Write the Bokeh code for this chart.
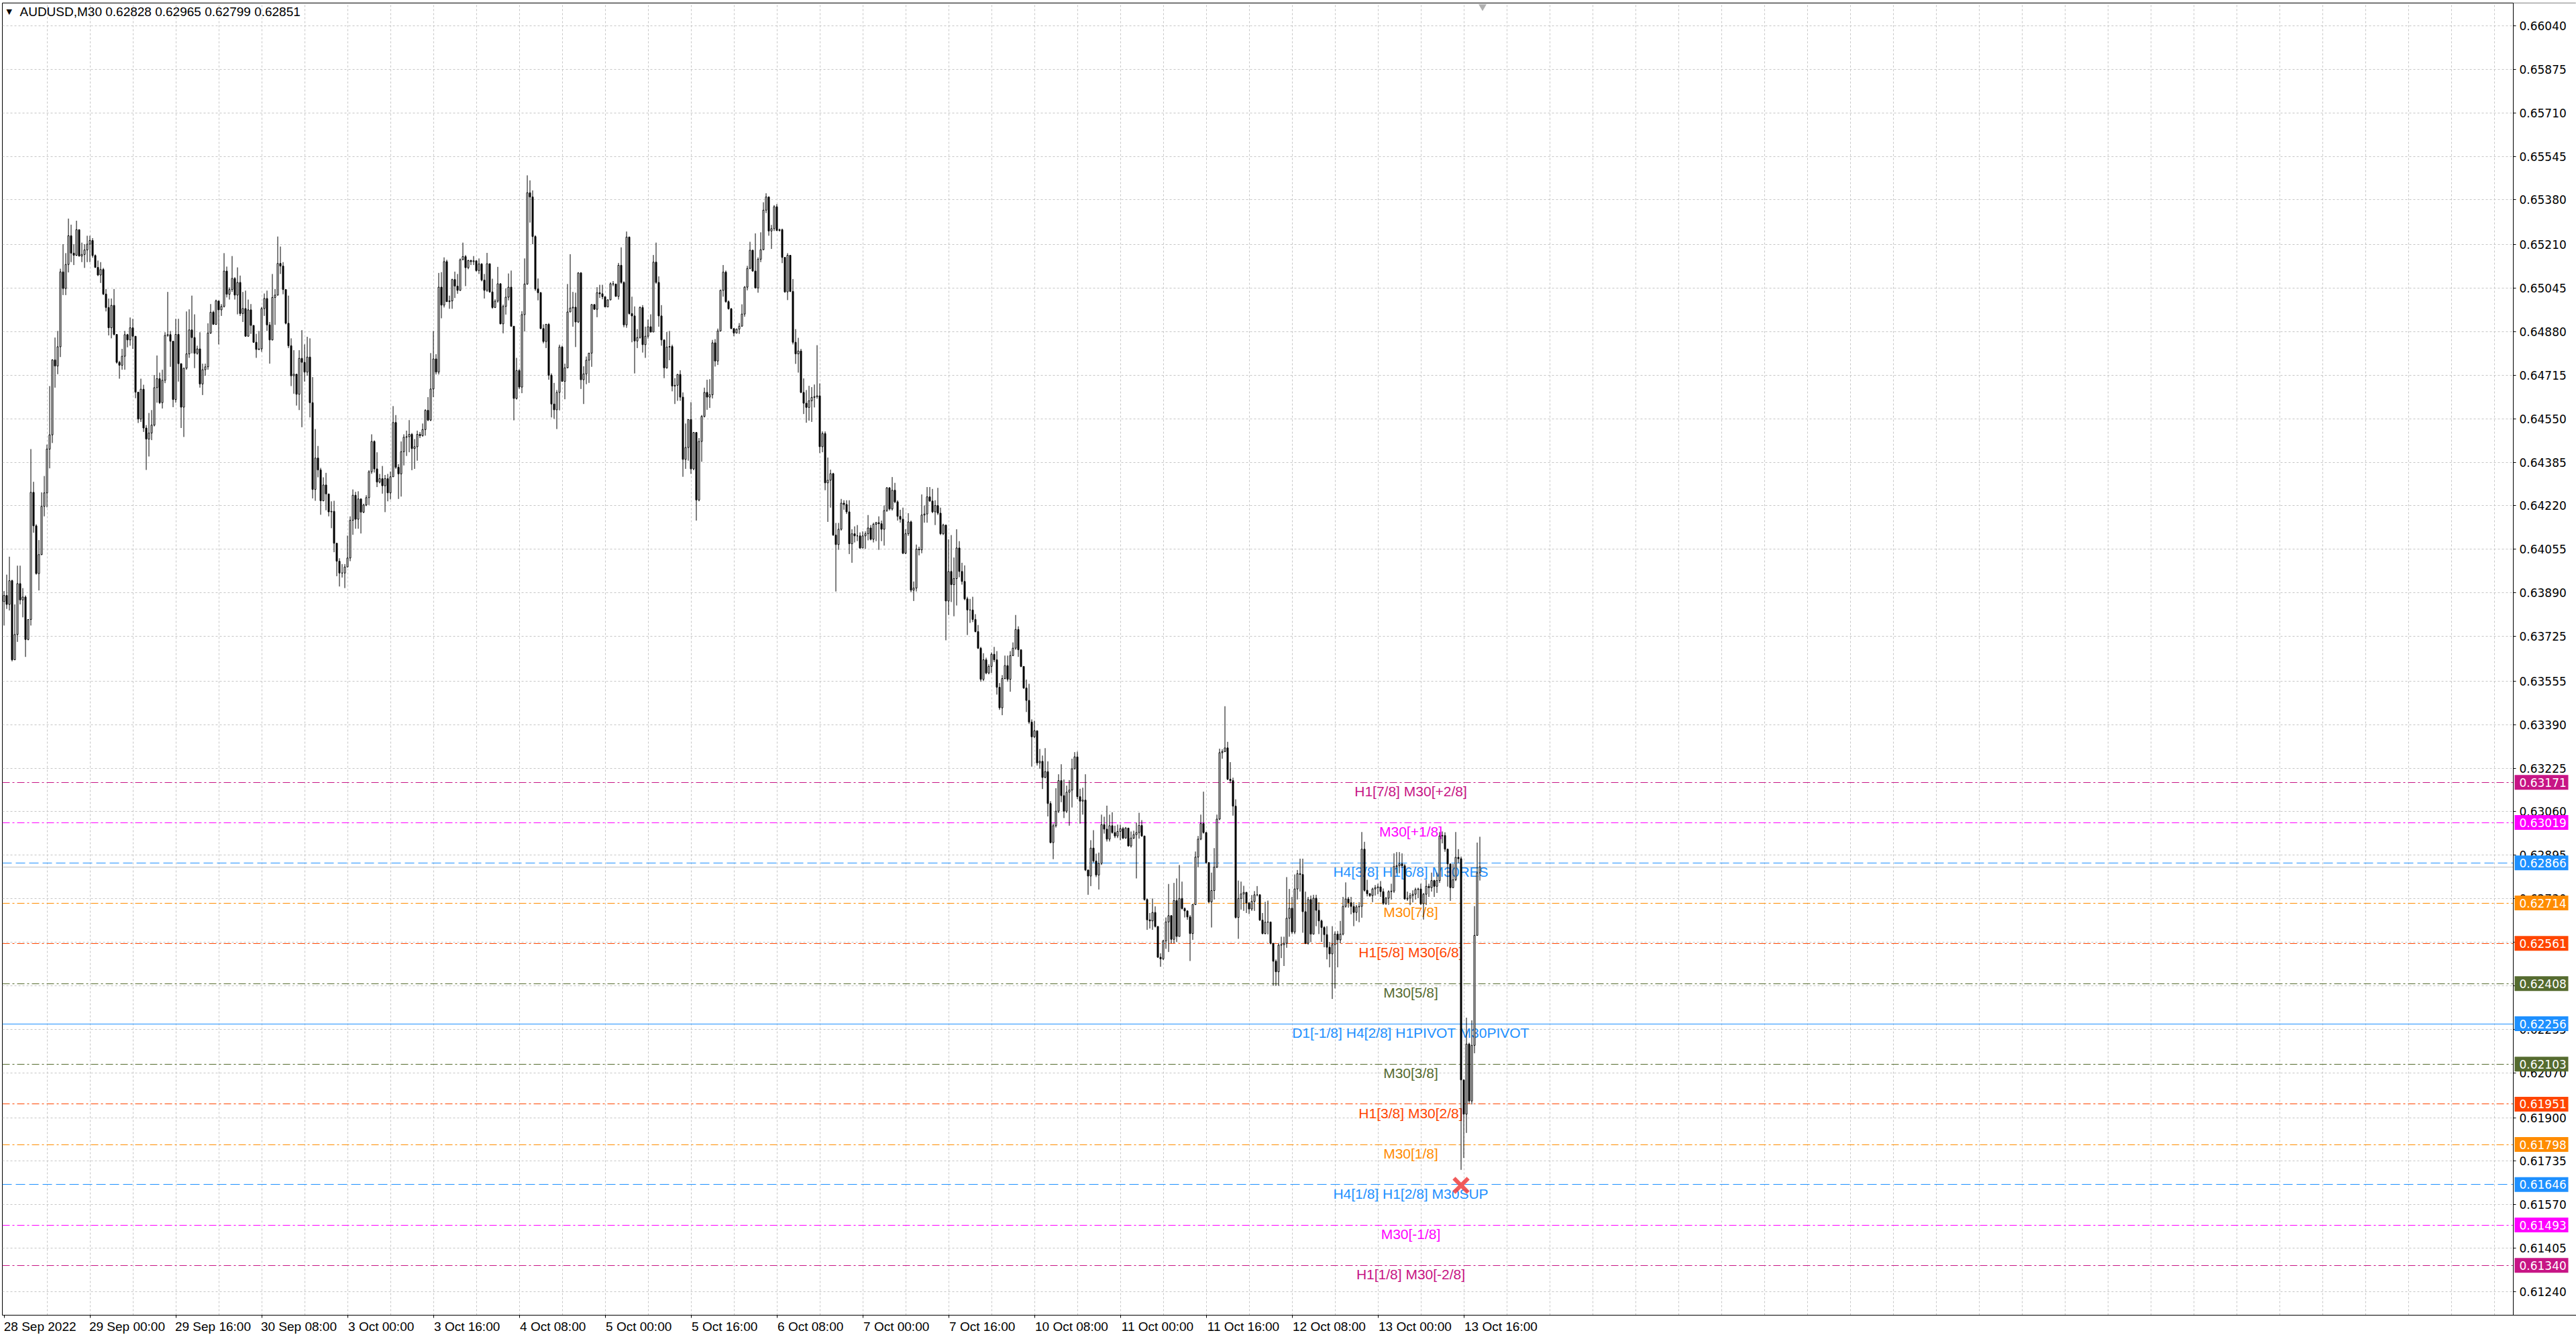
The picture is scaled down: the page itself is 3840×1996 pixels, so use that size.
import numpy as np
from bokeh.plotting import figure
from bokeh.models import (ColumnDataSource, FixedTicker, LinearAxis, Range1d,
                          Grid, NumeralTickFormatter)
from bokeh.core.properties import value
from bokeh.embed import file_html
from bokeh.resources import INLINE

# ---------------- data ----------------
title_text = "AUDUSD,M30  0.62828 0.62965 0.62799 0.62851"
first_open = 0.63857

close = [
0.63880, 0.63846, 0.63936, 0.63636, 0.63732, 0.63925, 0.63863, 0.63874, 0.63713, 0.63789,
0.64271, 0.64144, 0.63963, 0.64035, 0.64218, 0.64269, 0.64435, 0.64489, 0.64773, 0.64750,
0.64823, 0.65107, 0.65044, 0.65135, 0.65244, 0.65178, 0.65170, 0.65267, 0.65167, 0.65173,
0.65190, 0.65212, 0.65226, 0.65169, 0.65124, 0.65095, 0.65116, 0.65023, 0.64972, 0.64895,
0.64980, 0.64870, 0.64764, 0.64753, 0.64787, 0.64869, 0.64849, 0.64895, 0.64863, 0.64651,
0.64549, 0.64662, 0.64515, 0.64473, 0.64496, 0.64526, 0.64668, 0.64702, 0.64611, 0.64696,
0.64866, 0.64869, 0.64844, 0.64623, 0.64870, 0.64759, 0.64594, 0.64742, 0.64796, 0.64887,
0.64858, 0.64798, 0.64815, 0.64682, 0.64736, 0.64747, 0.64875, 0.64954, 0.64908, 0.64997,
0.64963, 0.64976, 0.65110, 0.65022, 0.65040, 0.65082, 0.65019, 0.65067, 0.64949, 0.64968,
0.64863, 0.64963, 0.64904, 0.64840, 0.64813, 0.64815, 0.64968, 0.65006, 0.64906, 0.64849,
0.65010, 0.65019, 0.65139, 0.65129, 0.65040, 0.64912, 0.64827, 0.64713, 0.64719, 0.64643,
0.64779, 0.64764, 0.64727, 0.64784, 0.64611, 0.64282, 0.64401, 0.64356, 0.64239, 0.64299,
0.64265, 0.64197, 0.64199, 0.64078, 0.64010, 0.63965, 0.63965, 0.63988, 0.64022, 0.64165,
0.64260, 0.64169, 0.64246, 0.64196, 0.64223, 0.64251, 0.64349, 0.64464, 0.64360, 0.64310,
0.64323, 0.64296, 0.64323, 0.64269, 0.64330, 0.64536, 0.64366, 0.64341, 0.64425, 0.64480,
0.64482, 0.64491, 0.64437, 0.64444, 0.64491, 0.64486, 0.64509, 0.64582, 0.64545, 0.64663,
0.64777, 0.64727, 0.65049, 0.64981, 0.65146, 0.64994, 0.64997, 0.65078, 0.65053, 0.65037,
0.65153, 0.65165, 0.65123, 0.65150, 0.65146, 0.65149, 0.65112, 0.65137, 0.65076, 0.65037,
0.65138, 0.65031, 0.64972, 0.64996, 0.65062, 0.64910, 0.64976, 0.65011, 0.65049, 0.64901,
0.64627, 0.64733, 0.64670, 0.64945, 0.65061, 0.65407, 0.65391, 0.65241, 0.65042, 0.65028,
0.64892, 0.64843, 0.64908, 0.64715, 0.64606, 0.64584, 0.64650, 0.64822, 0.64692, 0.64743,
0.64955, 0.64970, 0.64973, 0.64917, 0.65103, 0.64698, 0.64720, 0.64772, 0.64799, 0.64983,
0.64965, 0.65028, 0.65024, 0.65013, 0.64974, 0.65001, 0.65062, 0.65061, 0.65014, 0.65132,
0.65067, 0.64906, 0.65239, 0.64949, 0.64940, 0.64845, 0.64858, 0.64972, 0.64831, 0.64863,
0.64899, 0.64879, 0.65144, 0.65067, 0.64940, 0.64849, 0.64743, 0.64822, 0.64824, 0.64674,
0.64677, 0.64718, 0.64632, 0.64396, 0.64441, 0.64547, 0.64360, 0.64498, 0.64242, 0.64464,
0.64559, 0.64650, 0.64632, 0.64641, 0.64838, 0.64769, 0.64883, 0.65037, 0.65106, 0.64994,
0.64967, 0.64892, 0.64875, 0.64890, 0.64901, 0.64947, 0.65049, 0.65120, 0.65189, 0.65110,
0.65046, 0.65155, 0.65191, 0.65341, 0.65391, 0.65262, 0.65271, 0.65354, 0.65264, 0.65267,
0.65162, 0.65031, 0.65170, 0.65033, 0.64840, 0.64796, 0.64807, 0.64650, 0.64609, 0.64593,
0.64618, 0.64631, 0.64634, 0.64637, 0.64444, 0.64494, 0.64307, 0.64317, 0.64342, 0.64109,
0.64073, 0.64131, 0.64230, 0.64225, 0.64197, 0.64076, 0.64114, 0.64106, 0.64106, 0.64060,
0.64106, 0.64114, 0.64136, 0.64093, 0.64150, 0.64156, 0.64152, 0.64131, 0.64202, 0.64288,
0.64208, 0.64279, 0.64235, 0.64180, 0.64169, 0.64040, 0.64114, 0.64159, 0.63900, 0.63908,
0.64056, 0.64053, 0.64185, 0.64189, 0.64254, 0.64238, 0.64197, 0.64221, 0.64192, 0.64114,
0.64147, 0.63859, 0.63971, 0.63921, 0.63944, 0.64060, 0.63971, 0.63933, 0.63867, 0.63825,
0.63825, 0.63789, 0.63743, 0.63680, 0.63562, 0.63636, 0.63586, 0.63611, 0.63657, 0.63636,
0.63532, 0.63454, 0.63565, 0.63614, 0.63562, 0.63652, 0.63680, 0.63751, 0.63674, 0.63611,
0.63529, 0.63482, 0.63400, 0.63344, 0.63367, 0.63245, 0.63251, 0.63190, 0.63212, 0.63091,
0.62943, 0.63007, 0.63062, 0.63178, 0.63121, 0.63062, 0.63134, 0.63142, 0.63223, 0.63268,
0.63117, 0.63100, 0.63104, 0.62839, 0.62816, 0.62922, 0.62873, 0.62820, 0.62864, 0.63011,
0.62994, 0.62956, 0.63007, 0.62981, 0.62968, 0.62985, 0.62996, 0.62960, 0.62998, 0.62930,
0.62960, 0.62973, 0.62981, 0.63008, 0.62968, 0.62727, 0.62650, 0.62646, 0.62678, 0.62625,
0.62508, 0.62502, 0.62570, 0.62642, 0.62666, 0.62576, 0.62723, 0.62587, 0.62731, 0.62693,
0.62684, 0.62661, 0.62598, 0.62708, 0.62888, 0.62956, 0.63015, 0.62981, 0.62867, 0.62718,
0.62761, 0.62850, 0.63032, 0.63284, 0.63288, 0.63302, 0.63183, 0.63178, 0.63081, 0.62659,
0.62731, 0.62748, 0.62754, 0.62714, 0.62691, 0.62720, 0.62745, 0.62745, 0.62649, 0.62598,
0.62641, 0.62642, 0.62561, 0.62493, 0.62453, 0.62554, 0.62556, 0.62561, 0.62656, 0.62694,
0.62604, 0.62767, 0.62825, 0.62822, 0.62681, 0.62561, 0.62727, 0.62596, 0.62732, 0.62686,
0.62646, 0.62621, 0.62594, 0.62546, 0.62521, 0.62556, 0.62596, 0.62574, 0.62596, 0.62701,
0.62729, 0.62715, 0.62701, 0.62678, 0.62699, 0.62701, 0.62918, 0.62762, 0.62749, 0.62742,
0.62767, 0.62772, 0.62775, 0.62757, 0.62712, 0.62732, 0.62757, 0.62759, 0.62852, 0.62855,
0.62862, 0.62855, 0.62729, 0.62732, 0.62742, 0.62747, 0.62765, 0.62767, 0.62711, 0.62747,
0.62777, 0.62772, 0.62799, 0.62777, 0.62799, 0.62968, 0.62970, 0.62918, 0.62862, 0.62772,
0.62802, 0.62887, 0.62882, 0.62043, 0.61913, 0.62179, 0.61963, 0.62174, 0.62591, 0.62828, 0.62851,
]

high = [
0.63897, 0.63959, 0.64027, 0.63940, 0.63846, 0.63993, 0.63993, 0.63908, 0.63880, 0.63789,
0.64435, 0.64311, 0.64150, 0.64090, 0.64271, 0.64333, 0.64452, 0.64674, 0.64776, 0.64858,
0.64883, 0.65119, 0.65212, 0.65178, 0.65309, 0.65286, 0.65212, 0.65301, 0.65267, 0.65218,
0.65212, 0.65244, 0.65244, 0.65235, 0.65173, 0.65150, 0.65144, 0.65122, 0.65042, 0.65006,
0.65006, 0.65042, 0.64870, 0.64770, 0.64815, 0.64883, 0.64872, 0.64934, 0.64929, 0.64863,
0.64651, 0.64702, 0.64679, 0.64526, 0.64572, 0.64583, 0.64716, 0.64790, 0.64725, 0.64736,
0.64878, 0.65031, 0.64883, 0.64844, 0.64929, 0.64929, 0.64753, 0.64742, 0.64957, 0.64965,
0.65017, 0.64946, 0.64827, 0.64878, 0.64759, 0.64759, 0.64912, 0.64985, 0.64960, 0.65002,
0.64997, 0.64985, 0.65178, 0.65127, 0.65048, 0.65167, 0.65087, 0.65124, 0.65093, 0.65031,
0.65036, 0.65002, 0.64985, 0.64904, 0.64872, 0.64883, 0.64974, 0.65025, 0.65036, 0.64917,
0.65099, 0.65042, 0.65241, 0.65203, 0.65144, 0.65040, 0.65017, 0.64855, 0.64810, 0.64719,
0.64810, 0.64886, 0.64832, 0.64861, 0.64855, 0.64708, 0.64511, 0.64447, 0.64364, 0.64328,
0.64345, 0.64265, 0.64237, 0.64239, 0.64070, 0.64021, 0.63999, 0.63999, 0.64107, 0.64180,
0.64282, 0.64273, 0.64275, 0.64248, 0.64228, 0.64260, 0.64355, 0.64491, 0.64468, 0.64423,
0.64341, 0.64371, 0.64337, 0.64341, 0.64350, 0.64598, 0.64564, 0.64378, 0.64464, 0.64491,
0.64505, 0.64545, 0.64496, 0.64473, 0.64505, 0.64500, 0.64532, 0.64586, 0.64632, 0.64799,
0.64883, 0.64795, 0.65103, 0.65106, 0.65162, 0.65153, 0.65017, 0.65081, 0.65108, 0.65099,
0.65158, 0.65218, 0.65171, 0.65153, 0.65153, 0.65167, 0.65149, 0.65158, 0.65140, 0.65099,
0.65179, 0.65135, 0.65081, 0.65003, 0.65126, 0.65064, 0.64983, 0.65044, 0.65101, 0.65112,
0.64901, 0.64781, 0.64738, 0.64958, 0.65158, 0.65473, 0.65454, 0.65416, 0.65246, 0.65082,
0.65031, 0.64908, 0.64910, 0.64913, 0.64722, 0.64686, 0.64659, 0.64831, 0.64827, 0.64759,
0.65061, 0.65174, 0.65031, 0.65028, 0.65106, 0.65106, 0.64749, 0.64786, 0.64799, 0.64985,
0.64985, 0.65049, 0.65058, 0.65058, 0.65013, 0.65003, 0.65067, 0.65072, 0.65062, 0.65141,
0.65200, 0.65071, 0.65260, 0.65241, 0.65013, 0.64976, 0.64890, 0.64976, 0.64981, 0.64899,
0.64926, 0.64946, 0.65171, 0.65218, 0.65090, 0.64981, 0.64849, 0.64879, 0.64883, 0.64831,
0.64704, 0.64720, 0.64734, 0.64650, 0.64532, 0.64547, 0.64613, 0.64500, 0.64500, 0.64477,
0.64564, 0.64668, 0.64698, 0.64700, 0.64849, 0.64852, 0.64892, 0.65040, 0.65133, 0.65112,
0.64999, 0.64970, 0.64890, 0.64892, 0.64913, 0.64984, 0.65053, 0.65130, 0.65221, 0.65191,
0.65253, 0.65162, 0.65257, 0.65371, 0.65405, 0.65393, 0.65285, 0.65360, 0.65364, 0.65271,
0.65271, 0.65162, 0.65178, 0.65162, 0.65080, 0.64890, 0.64857, 0.64815, 0.64703, 0.64659,
0.64675, 0.64670, 0.64680, 0.64829, 0.64684, 0.64502, 0.64502, 0.64403, 0.64357, 0.64345,
0.64155, 0.64155, 0.64246, 0.64241, 0.64241, 0.64241, 0.64131, 0.64142, 0.64147, 0.64119,
0.64123, 0.64123, 0.64185, 0.64147, 0.64156, 0.64159, 0.64180, 0.64164, 0.64221, 0.64291,
0.64291, 0.64329, 0.64307, 0.64241, 0.64205, 0.64213, 0.64131, 0.64192, 0.64164, 0.63933,
0.64073, 0.64065, 0.64263, 0.64221, 0.64291, 0.64291, 0.64284, 0.64241, 0.64288, 0.64213,
0.64152, 0.64147, 0.64093, 0.64109, 0.64024, 0.64131, 0.64086, 0.64004, 0.63994, 0.63875,
0.63867, 0.63875, 0.63809, 0.63768, 0.63685, 0.63661, 0.63644, 0.63619, 0.63664, 0.63685,
0.63669, 0.63548, 0.63578, 0.63652, 0.63652, 0.63669, 0.63702, 0.63806, 0.63763, 0.63674,
0.63611, 0.63561, 0.63545, 0.63410, 0.63405, 0.63367, 0.63298, 0.63273, 0.63301, 0.63251,
0.63100, 0.63015, 0.63149, 0.63202, 0.63240, 0.63182, 0.63159, 0.63180, 0.63261, 0.63286,
0.63288, 0.63147, 0.63151, 0.63202, 0.62840, 0.62952, 0.62990, 0.62901, 0.62905, 0.63049,
0.63041, 0.63083, 0.63049, 0.63058, 0.63007, 0.63011, 0.63011, 0.63002, 0.63002, 0.62999,
0.62985, 0.62988, 0.63019, 0.63056, 0.63028, 0.62966, 0.62731, 0.62676, 0.62731, 0.62701,
0.62625, 0.62523, 0.62574, 0.62659, 0.62786, 0.62668, 0.62790, 0.62807, 0.62858, 0.62795,
0.62697, 0.62684, 0.62668, 0.62710, 0.62909, 0.62968, 0.63049, 0.63136, 0.62983, 0.62869,
0.62829, 0.62922, 0.63049, 0.63299, 0.63297, 0.63460, 0.63325, 0.63248, 0.63189, 0.63107,
0.62799, 0.62795, 0.62779, 0.62756, 0.62718, 0.62744, 0.62759, 0.62778, 0.62747, 0.62676,
0.62718, 0.62723, 0.62642, 0.62561, 0.62500, 0.62561, 0.62586, 0.62586, 0.62812, 0.62767,
0.62737, 0.62822, 0.62839, 0.62882, 0.62882, 0.62757, 0.62737, 0.62742, 0.62745, 0.62745,
0.62717, 0.62651, 0.62626, 0.62626, 0.62566, 0.62626, 0.62606, 0.62608, 0.62646, 0.62737,
0.62792, 0.62737, 0.62737, 0.62717, 0.62707, 0.62717, 0.62983, 0.62946, 0.62802, 0.62752,
0.62772, 0.62782, 0.62787, 0.62797, 0.62769, 0.62737, 0.62762, 0.62787, 0.62902, 0.62907,
0.62907, 0.62902, 0.62862, 0.62757, 0.62752, 0.62762, 0.62772, 0.62772, 0.62787, 0.62752,
0.62802, 0.62787, 0.62829, 0.62802, 0.62829, 0.62983, 0.62985, 0.62982, 0.62920, 0.62860,
0.62862, 0.62983, 0.62918, 0.62890, 0.62043, 0.62279, 0.62184, 0.62269, 0.62702, 0.62943, 0.62965,
]

low = [
0.63766, 0.63829, 0.63823, 0.63630, 0.63638, 0.63704, 0.63846, 0.63797, 0.63647, 0.63710,
0.63766, 0.64118, 0.63959, 0.63899, 0.64033, 0.64180, 0.64214, 0.64362, 0.64458, 0.64668,
0.64719, 0.64784, 0.65019, 0.65019, 0.65105, 0.65144, 0.65133, 0.65167, 0.65165, 0.65144,
0.65122, 0.65144, 0.65144, 0.65161, 0.65122, 0.65091, 0.65065, 0.65019, 0.64957, 0.64866,
0.64855, 0.64866, 0.64759, 0.64702, 0.64736, 0.64736, 0.64821, 0.64827, 0.64815, 0.64628,
0.64534, 0.64538, 0.64500, 0.64356, 0.64407, 0.64469, 0.64521, 0.64611, 0.64606, 0.64589,
0.64685, 0.64861, 0.64747, 0.64594, 0.64611, 0.64691, 0.64515, 0.64481, 0.64736, 0.64781,
0.64798, 0.64742, 0.64793, 0.64668, 0.64640, 0.64713, 0.64736, 0.64872, 0.64906, 0.64906,
0.64832, 0.64940, 0.64972, 0.65010, 0.65002, 0.65031, 0.65002, 0.64946, 0.64940, 0.64917,
0.64861, 0.64861, 0.64872, 0.64838, 0.64781, 0.64810, 0.64804, 0.64940, 0.64883, 0.64759,
0.64847, 0.64906, 0.65017, 0.65099, 0.65022, 0.64908, 0.64818, 0.64674, 0.64645, 0.64600,
0.64583, 0.64518, 0.64691, 0.64713, 0.64555, 0.64248, 0.64239, 0.64328, 0.64186, 0.64237,
0.64203, 0.64180, 0.64135, 0.64044, 0.63953, 0.63914, 0.63948, 0.63908, 0.63988, 0.64010,
0.64110, 0.64133, 0.64133, 0.64115, 0.64192, 0.64219, 0.64223, 0.64341, 0.64346, 0.64291,
0.64305, 0.64266, 0.64196, 0.64237, 0.64244, 0.64330, 0.64360, 0.64246, 0.64255, 0.64373,
0.64409, 0.64423, 0.64355, 0.64360, 0.64391, 0.64477, 0.64482, 0.64486, 0.64541, 0.64541,
0.64632, 0.64718, 0.64718, 0.64931, 0.64972, 0.64994, 0.64967, 0.64967, 0.65008, 0.65024,
0.65035, 0.65151, 0.65053, 0.65117, 0.65133, 0.65133, 0.65108, 0.65099, 0.65071, 0.65006,
0.65031, 0.65028, 0.64967, 0.64970, 0.64990, 0.64908, 0.64874, 0.64945, 0.64999, 0.64899,
0.64544, 0.64623, 0.64663, 0.64647, 0.64881, 0.65058, 0.65294, 0.65212, 0.65035, 0.64999,
0.64890, 0.64836, 0.64818, 0.64698, 0.64555, 0.64550, 0.64511, 0.64582, 0.64690, 0.64624,
0.64742, 0.64955, 0.64899, 0.64822, 0.64913, 0.64663, 0.64606, 0.64681, 0.64686, 0.64747,
0.64963, 0.64935, 0.65008, 0.65003, 0.64974, 0.64985, 0.64999, 0.65053, 0.65013, 0.65002,
0.65062, 0.64897, 0.64895, 0.64945, 0.64840, 0.64722, 0.64818, 0.64854, 0.64801, 0.64781,
0.64854, 0.64877, 0.64883, 0.65062, 0.64899, 0.64827, 0.64704, 0.64740, 0.64772, 0.64654,
0.64606, 0.64618, 0.64618, 0.64330, 0.64360, 0.64391, 0.64341, 0.64355, 0.64164, 0.64237,
0.64387, 0.64555, 0.64584, 0.64591, 0.64627, 0.64748, 0.64754, 0.64881, 0.65013, 0.64990,
0.64964, 0.64890, 0.64863, 0.64874, 0.64872, 0.64899, 0.64937, 0.65037, 0.65117, 0.65108,
0.65044, 0.65028, 0.65144, 0.65189, 0.65330, 0.65244, 0.65194, 0.65262, 0.65262, 0.65260,
0.65140, 0.65028, 0.65000, 0.65030, 0.64832, 0.64758, 0.64725, 0.64647, 0.64568, 0.64535,
0.64543, 0.64538, 0.64593, 0.64626, 0.64420, 0.64423, 0.64279, 0.64159, 0.64213, 0.64106,
0.63895, 0.64053, 0.64126, 0.64205, 0.64189, 0.64037, 0.64004, 0.64081, 0.64086, 0.64057,
0.64076, 0.64057, 0.64089, 0.64089, 0.64081, 0.64086, 0.64053, 0.64086, 0.64069, 0.64197,
0.64202, 0.64202, 0.64230, 0.64164, 0.64156, 0.64037, 0.64037, 0.64106, 0.63892, 0.63859,
0.63895, 0.64032, 0.64040, 0.64156, 0.64156, 0.64235, 0.64192, 0.64147, 0.64185, 0.64109,
0.64109, 0.63710, 0.63806, 0.63855, 0.63801, 0.63842, 0.63949, 0.63921, 0.63862, 0.63730,
0.63776, 0.63779, 0.63740, 0.63677, 0.63553, 0.63555, 0.63581, 0.63581, 0.63586, 0.63627,
0.63504, 0.63446, 0.63426, 0.63562, 0.63553, 0.63515, 0.63650, 0.63674, 0.63647, 0.63608,
0.63526, 0.63438, 0.63393, 0.63231, 0.63340, 0.63235, 0.63223, 0.63146, 0.63187, 0.63042,
0.62940, 0.62880, 0.63000, 0.63055, 0.63096, 0.63036, 0.63055, 0.63007, 0.63076, 0.63220,
0.63108, 0.63015, 0.63049, 0.62835, 0.62745, 0.62778, 0.62867, 0.62812, 0.62765, 0.62858,
0.62977, 0.62947, 0.62947, 0.62977, 0.62960, 0.62960, 0.62952, 0.62956, 0.62958, 0.62928,
0.62924, 0.62956, 0.62807, 0.62958, 0.62965, 0.62723, 0.62612, 0.62617, 0.62612, 0.62621,
0.62506, 0.62472, 0.62498, 0.62540, 0.62528, 0.62561, 0.62561, 0.62566, 0.62629, 0.62689,
0.62659, 0.62650, 0.62494, 0.62574, 0.62706, 0.62850, 0.62952, 0.62977, 0.62863, 0.62714,
0.62621, 0.62727, 0.62846, 0.63028, 0.63261, 0.63286, 0.63180, 0.63168, 0.63045, 0.62655,
0.62578, 0.62689, 0.62684, 0.62676, 0.62672, 0.62684, 0.62684, 0.62739, 0.62646, 0.62595,
0.62595, 0.62595, 0.62557, 0.62400, 0.62400, 0.62400, 0.62505, 0.62475, 0.62544, 0.62586,
0.62596, 0.62596, 0.62727, 0.62757, 0.62601, 0.62558, 0.62556, 0.62566, 0.62594, 0.62626,
0.62596, 0.62566, 0.62546, 0.62500, 0.62470, 0.62350, 0.62390, 0.62470, 0.62561, 0.62591,
0.62696, 0.62696, 0.62671, 0.62626, 0.62646, 0.62641, 0.62658, 0.62757, 0.62739, 0.62737,
0.62717, 0.62742, 0.62747, 0.62737, 0.62707, 0.62707, 0.62707, 0.62727, 0.62752, 0.62827,
0.62827, 0.62847, 0.62727, 0.62722, 0.62706, 0.62716, 0.62727, 0.62732, 0.62706, 0.62651,
0.62706, 0.62737, 0.62757, 0.62737, 0.62752, 0.62790, 0.62940, 0.62908, 0.62776, 0.62722,
0.62770, 0.62797, 0.62865, 0.61702, 0.61747, 0.61842, 0.61953, 0.61950, 0.62144, 0.62591, 0.62799,
]

time_tick_bars = [0, 32, 64, 96, 128, 160, 192, 224, 256, 288, 320, 352, 384, 416, 448, 480, 512, 544]
time_tick_labels = ["28 Sep 2022", "29 Sep 00:00", "29 Sep 16:00", "30 Sep 08:00", "3 Oct 00:00",
                    "3 Oct 16:00", "4 Oct 08:00", "5 Oct 00:00", "5 Oct 16:00", "6 Oct 08:00",
                    "7 Oct 00:00", "7 Oct 16:00", "10 Oct 08:00", "11 Oct 00:00", "11 Oct 16:00",
                    "12 Oct 08:00", "13 Oct 00:00", "13 Oct 16:00"]

price_ticks = [0.66040, 0.65875, 0.65710, 0.65545, 0.65380, 0.65210, 0.65045, 0.64880, 0.64715,
               0.64550, 0.64385, 0.64220, 0.64055, 0.63890, 0.63725, 0.63555, 0.63390, 0.63225,
               0.63060, 0.62895, 0.62730, 0.62565, 0.62400, 0.62235, 0.62070, 0.61900, 0.61735,
               0.61570, 0.61405, 0.61240]

level_prices = [0.63171, 0.63019, 0.62866, 0.62714, 0.62561, 0.62408, 0.62256,
                0.62103, 0.61951, 0.61798, 0.61646, 0.61493, 0.61340]
level_names = ["H1[7/8] M30[+2/8]", "M30[+1/8]", "H4[3/8] H1[6/8] M30RES", "M30[7/8]",
               "H1[5/8] M30[6/8]", "M30[5/8]", "D1[-1/8] H4[2/8] H1PIVOT M30PIVOT",
               "M30[3/8]", "H1[3/8] M30[2/8]", "M30[1/8]", "H4[1/8] H1[2/8] M30SUP",
               "M30[-1/8]", "H1[1/8] M30[-2/8]"]
level_colors = ["#C71585", "#FF00FF", "#1E90FF", "#FF8C00", "#FF4500", "#556B2F", "#1E90FF",
                "#556B2F", "#FF4500", "#FF8C00", "#1E90FF", "#FF00FF", "#C71585"]
level_styles = ["dashdot", "dashdot", "dash", "dashdot", "dashdot", "dashdot", "solid",
                "dashdot", "dashdot", "dashdot", "dash", "dashdot", "dashdot"]

bid_price = 0.62851
cross_bar = 543
cross_price = 0.61643
shift_marker_bar = 551.0

# ---------------- derived ----------------
n = min(len(close), len(high), len(low))
close_a = np.array(close[:n])
open_a = np.array([first_open] + close[:n - 1])
high_a = np.maximum(np.array(high[:n]), np.maximum(open_a, close_a))
low_a = np.minimum(np.array(low[:n]), np.minimum(open_a, close_a))
idx = np.arange(n)
bull = close_a >= open_a

src = ColumnDataSource(dict(
    x=idx, top=np.maximum(open_a, close_a), bottom=np.minimum(open_a, close_a),
    hi=high_a, lo=low_a,
    fill=np.where(bull, "white", "black"),
))

# layout constants (pixels -> data); bars centred on pixel centres for crisp 1px lines
PX_PER_BAR = 4.0
FRAME_W, FRAME_H = 3837, 1956
X0 = -0.625
X1 = X0 + FRAME_W / PX_PER_BAR
X_AXIS = X0 + 935.75            # position of the price-scale line
Y0, Y1 = 0.611509, 0.661265

p = figure(frame_width=FRAME_W, frame_height=FRAME_H, output_backend="svg",
           toolbar_location=None,
           x_range=Range1d(X0, X1), y_range=Range1d(Y0, Y1),
           x_axis_type=None, y_axis_type=None,
           min_border_left=3, min_border_top=4, min_border_right=0, min_border_bottom=36,
           background_fill_color="white", border_fill_color="white",
           outline_line_color="black", outline_line_width=1)

grid_color = "#c6c6c6"
p.add_layout(Grid(dimension=0, ticker=FixedTicker(ticks=list(range(16, 935, 16))),
                  grid_line_color=grid_color, grid_line_dash="3 3", grid_line_width=1))
p.add_layout(Grid(dimension=1, ticker=FixedTicker(ticks=price_ticks),
                  grid_line_color=grid_color, grid_line_dash="3 3", grid_line_width=1))

# time axis: labels start at their tick (MT4 style) -> pad with leading no-break spaces
LAB_SIZE = 19
NBSP_W = 0.278 * LAB_SIZE
arial_w = {**{d: 0.556 for d in "0123456789"}, " ": 0.278, ":": 0.278, "S": 0.667,
           "e": 0.556, "p": 0.556, "O": 0.778, "c": 0.5, "t": 0.278}


def left_start(label):
    w = sum(arial_w.get(ch, 0.556) for ch in label) * LAB_SIZE
    k = int(round(w / NBSP_W))
    return "\u00a0" * k + label


overrides = {}
for i, (b, t) in enumerate(zip(time_tick_bars, time_tick_labels)):
    # first label sits at the left edge of the canvas (Bokeh keeps it inside the canvas)
    overrides[b] = ("\u00a0" + t) if i == 0 else left_start(t)

xaxis = LinearAxis(ticker=FixedTicker(ticks=time_tick_bars),
                   major_label_overrides=overrides,
                   major_label_text_font="Liberation Sans", major_label_text_font_size=f"{LAB_SIZE}px",
                   major_label_text_color="black",
                   major_tick_out=4, major_tick_in=0, minor_tick_out=0, minor_tick_in=0,
                   major_label_standoff=2, axis_line_color="black", major_tick_line_color="black")
p.add_layout(xaxis, "below")

dash_map = {"dashdot": "11 4 3 4", "dash": "14 6", "solid": "solid"}

# bid line
p.hspan(y=bid_price, line_color="#c0c0c0", line_width=1)

# level lines
for lvl, col, sty in zip(level_prices, level_colors, level_styles):
    p.hspan(y=lvl, line_color=col, line_width=1.2, line_dash=dash_map[sty])

# level texts
lsrc = ColumnDataSource(dict(x=[524.25] * len(level_prices), y=level_prices,
                             t=level_names, c=level_colors))
p.text(x="x", y="y", text="t", text_color="c", source=lsrc,
       text_font=value("Liberation Sans"), text_font_size="21px",
       text_align="center", text_baseline="top", y_offset=2)

# candles
p.segment(x0="x", y0="lo", x1="x", y1="hi", source=src, line_color="black", line_width=1)
p.vbar(x="x", width=0.5, top="top", bottom="bottom", source=src,
       fill_color="fill", line_color="black", line_width=1)

# red cross marker
p.scatter(x=[cross_bar], y=[cross_price], marker="x", size=30,
          line_color="#f04848", line_width=6, line_alpha=0.9)

# chart shift marker at top
p.scatter(x=[shift_marker_bar], y=[Y1 - 0.00013], marker="inverted_triangle", size=12,
          fill_color="#b0b0b0", line_color=None)

# title
p.text(x=[X0], y=[Y1], text=["\u25BC"], text_font=value("DejaVu Sans"), text_font_size="11px",
       text_color="black", text_align="left", text_baseline="middle", x_offset=6, y_offset=13)
p.text(x=[X0], y=[Y1], text=[title_text], text_font=value("Liberation Sans"),
       text_font_size="19px", text_color="black", text_align="left",
       text_baseline="middle", x_offset=26, y_offset=13)

# price-scale column: white background right of the scale line
p.quad(left=[X_AXIS], right=[X1 + 5], bottom=[Y0 - 0.01], top=[Y1 + 0.01],
       fill_color="white", line_color=None)

# price axis drawn at the scale line
yaxis = LinearAxis(ticker=FixedTicker(ticks=price_ticks), fixed_location=X_AXIS,
                   formatter=NumeralTickFormatter(format="0.00000"),
                   major_label_text_font="DejaVu Sans", major_label_text_font_size="17px",
                   major_label_text_color="black",
                   major_tick_out=4, major_tick_in=0, minor_tick_out=0, minor_tick_in=0,
                   major_label_standoff=5, axis_line_color="black", major_tick_line_color="black")
p.add_layout(yaxis, "right")

# coloured price boxes of the levels
bsrc = ColumnDataSource(dict(x=[X_AXIS + 10.5] * len(level_prices), xt=[X_AXIS] * len(level_prices),
                             y=level_prices, c=level_colors,
                             t=[f"{v:.5f}" for v in level_prices]))
p.rect(x="x", y="y", width=80, height=22, width_units="screen", height_units="screen",
       fill_color="c", line_color=None, source=bsrc, level="annotation")
p.text(x="xt", y="y", text="t", source=bsrc, text_color="white",
       text_font=value("DejaVu Sans"), text_font_size="17px",
       text_align="left", text_baseline="middle", x_offset=9, level="annotation")

open("out.html", "w").write(file_html(p, INLINE))
